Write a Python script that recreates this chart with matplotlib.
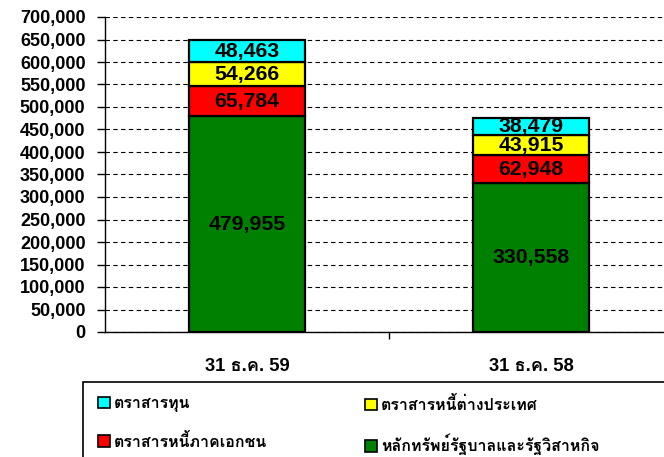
import matplotlib
matplotlib.use("Agg")
import matplotlib.pyplot as plt
from matplotlib import font_manager
from matplotlib.patches import Rectangle
from matplotlib.ticker import FuncFormatter, MultipleLocator, FixedLocator

# ---- data ----
categories = ["31 ธ.ค. 59", "31 ธ.ค. 58"]
govt = [479955, 330558]
private_debt = [65784, 62948]
foreign_debt = [54266, 43915]
equity = [48463, 38479]
series_names = ["ตราสารทุน", "ตราสารหนี้ภาคเอกชน", "ตราสารหนี้ต่างประเทศ", "หลักทรัพย์รัฐบาลและรัฐวิสาหกิจ"]

# ---- find a font with Thai glyphs ----
thai_family = None
try:
    from fontTools.ttLib import TTFont
    for f in font_manager.fontManager.ttflist:
        try:
            tt = TTFont(f.fname, fontNumber=0, lazy=True)
            cmap = tt.getBestCmap()
            if cmap and 0x0E18 in cmap and 0x0E2B in cmap:
                thai_family = f.name
                if 'Thai' in f.name or 'Loma' in f.name or 'Garuda' in f.name:
                    break
        except Exception:
            pass
except Exception:
    pass

families = ["Liberation Sans"]
if thai_family:
    families.append(thai_family)
families.append("DejaVu Sans")
plt.rcParams['font.family'] = families

W, H = 664, 457
fig = plt.figure(figsize=(W / 100, H / 100), dpi=100)
ax_left, ax_right = 105, 673
ax_top, ax_bot = 17, 332
ax = fig.add_axes([ax_left / W, 1 - ax_bot / H, (ax_right - ax_left) / W, (ax_bot - ax_top) / H])

x = [0, 1]
bw = 0.405
colors = {"equity": "#00FFFF", "foreign": "#FFFF00", "private": "#FF0000", "govt": "#008000"}
ek = dict(edgecolor="black", linewidth=1.6, zorder=3)

b_g = ax.bar(x, govt, bw, color=colors["govt"], **ek)
bot1 = govt
b_p = ax.bar(x, private_debt, bw, bottom=bot1, color=colors["private"], **ek)
bot2 = [a + b for a, b in zip(bot1, private_debt)]
b_f = ax.bar(x, foreign_debt, bw, bottom=bot2, color=colors["foreign"], **ek)
bot3 = [a + b for a, b in zip(bot2, foreign_debt)]
b_e = ax.bar(x, equity, bw, bottom=bot3, color=colors["equity"], **ek)

lab_kw = dict(fontsize=15.3, fontweight="bold", color="black", label_type="center", fmt="{:,.0f}")
for bars in (b_g, b_p, b_f, b_e):
    ax.bar_label(bars, **lab_kw)

ax.set_xlim(-0.5, 1.5)
ax.set_ylim(0, 700000)
ax.yaxis.set_major_locator(MultipleLocator(50000))
ax.yaxis.set_major_formatter(FuncFormatter(lambda v, p: f"{v:,.0f}"))
ax.grid(axis="y", linestyle=(0, (4, 3)), color="black", linewidth=0.8, zorder=0)
ax.set_axisbelow(True)

ax.set_xticks(x)
ax.set_xticklabels(categories, fontsize=13.2, fontweight="bold")
ax.tick_params(axis="x", length=0, pad=19)
ax.xaxis.set_minor_locator(FixedLocator([0.5]))
ax.tick_params(axis="x", which="minor", length=5, width=1, direction="out")
ax.tick_params(axis="y", length=5.5, width=1, direction="out", labelsize=13, pad=8.5)
for lbl in ax.get_yticklabels():
    lbl.set_fontweight("bold")

for s in ("top", "right"):
    ax.spines[s].set_visible(False)
for s in ("left", "bottom"):
    ax.spines[s].set_color("black")
    ax.spines[s].set_linewidth(1.0)

# legend box
fig.patches.append(Rectangle((83 / W, -0.1), 1.0, (1 - 382 / H) + 0.1, transform=fig.transFigure,
                             facecolor="white", edgecolor="black", linewidth=1.2))
leg_kw = dict(loc="upper left", frameon=False, fontsize=11.5, handlelength=0.75, handleheight=0.75,
              handletextpad=0.25, labelspacing=1.3, borderpad=0, borderaxespad=0)
leg1 = fig.legend([b_e[0], b_p[0]], [series_names[0], series_names[1]],
                  bbox_to_anchor=(98 / W, 1 - 396 / H), **leg_kw)
leg2 = fig.legend([b_f[0], b_g[0]], [series_names[2], series_names[3]],
                  bbox_to_anchor=(365 / W, 1 - 396 / H), **leg_kw)
for leg in (leg1, leg2):
    for t in leg.get_texts():
        t.set_fontweight("bold")
    for h in leg.legend_handles:
        h.set_linewidth(1.2)

fig.savefig("out.png", dpi=100)
print("thai font:", thai_family)
